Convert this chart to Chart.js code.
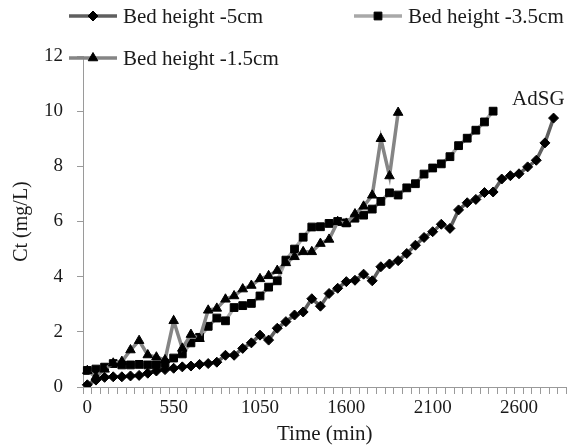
<!DOCTYPE html>
<html lang="en">
<head>
    <meta charset="utf-8">
    <title>Ct vs time - AdSG</title>
    <script src="https://cdn.jsdelivr.net/npm/chart.js"></script>
    <style>
        body {
            margin: 0;
            background-color: #ffffff;
        }
    </style>
</head>
<body>
    <canvas id="myChart" width="573" height="447"></canvas>

    <script>
        // time categories (min), only every 10th one is labelled on the axis
        const timeLabels = [
            0, 60, 115, 170, 225, 280, 330, 385, 440, 495,
            550, 600, 650, 700, 750, 800, 850, 900, 950, 1000,
            1050, 1105, 1160, 1215, 1270, 1325, 1380, 1435, 1490, 1545,
            1600, 1650, 1700, 1750, 1800, 1850, 1900, 1950, 2000, 2050,
            2100, 2150, 2200, 2250, 2300, 2350, 2400, 2450, 2500, 2550,
            2600, 2650, 2700, 2750, 2800, 2850
        ];
        const labelEvery = 10;

        const seriesNames = ['Bed height -5cm', 'Bed height -3.5cm', 'Bed height -1.5cm'];

        // Ct (mg/L)
        const bed5 = [
            0.08, 0.25, 0.35, 0.37, 0.37, 0.4, 0.42, 0.5, 0.58, 0.63,
            0.68, 0.73, 0.76, 0.82, 0.85, 0.9, 1.15, 1.15, 1.4, 1.6,
            1.88, 1.7, 2.13, 2.37, 2.61, 2.72, 3.2, 2.93, 3.39, 3.58,
            3.82, 3.87, 4.09, 3.85, 4.36, 4.46, 4.58, 4.84, 5.14, 5.42,
            5.63, 5.9, 5.75, 6.42, 6.68, 6.8, 7.05, 7.07, 7.54, 7.66,
            7.73, 7.98, 8.22, 8.85, 9.75
        ];
        const bed35 = [
            0.6, 0.65, 0.72, 0.85, 0.8, 0.8, 0.82, 0.8, 0.8, 0.86,
            1.05, 1.2, 1.6, 1.8, 2.2, 2.5, 2.4, 2.88, 2.95, 3.03,
            3.3, 3.62, 3.85, 4.6, 5.0, 5.43, 5.8, 5.81, 5.93, 6.0,
            5.95, 6.12, 6.23, 6.45, 6.73, 7.04, 6.96, 7.22, 7.37, 7.72,
            7.94, 8.09, 8.35, 8.75, 9.02, 9.31, 9.61, 10.0
        ];
        const bed15 = [
            0.59, 0.37, 0.64, 0.86, 0.92, 1.34, 1.68, 1.16, 1.08, 0.98,
            2.4, 1.4, 1.9, 1.75, 2.78, 2.85, 3.18, 3.3, 3.55, 3.68,
            3.92, 4.03, 4.22, 4.5, 4.72, 4.9, 4.9, 5.2, 5.35, 5.99,
            5.93, 6.27, 6.55, 6.95, 9.0, 7.65, 9.95
        ];

        const serif = '"Liberation Serif", "Times New Roman", serif';
        const textColor = '#1a1a1a';
        const axisColor = '#9a9a9a';

        // where each legend entry starts (line start x, centre y)
        const legendSpots = [
            { x: 69, y: 16 },
            { x: 354, y: 16 },
            { x: 69, y: 58 }
        ];

        const overlay = {
            id: 'overlay',
            afterDatasetsDraw(chart) {
                const c = chart.ctx;
                c.save();
                chart.data.datasets.forEach((ds, i) => {
                    const p = legendSpots[i];
                    c.strokeStyle = ds.borderColor;
                    c.lineWidth = ds.borderWidth;
                    c.beginPath();
                    c.moveTo(p.x, p.y);
                    c.lineTo(p.x + 48, p.y);
                    c.stroke();
                    c.fillStyle = '#000';
                    c.strokeStyle = '#000';
                    c.lineWidth = 1;
                    Chart.helpers.drawPoint(c, {
                        pointStyle: ds.pointStyle,
                        radius: ds.pointRadius,
                        borderWidth: 1,
                        rotation: 0
                    }, p.x + 24, p.y);
                    c.fillStyle = textColor;
                    c.font = '21px ' + serif;
                    c.textAlign = 'left';
                    c.textBaseline = 'middle';
                    c.fillText(ds.label, p.x + 54, p.y + 1);
                });

                // "AdSG" tag above the end of the 5 cm curve
                const pts = chart.getDatasetMeta(0).data;
                const last = pts[pts.length - 1];
                c.font = '21px ' + serif;
                c.textAlign = 'right';
                c.textBaseline = 'middle';
                c.fillStyle = textColor;
                c.fillText('AdSG', last.x + 11, last.y - 19);
                c.restore();
            }
        };

        const ctx = document.getElementById('myChart').getContext('2d');

        const myChart = new Chart(ctx, {
            type: 'line',
            data: {
                labels: timeLabels,
                datasets: [{
                    label: seriesNames[0],
                    data: bed5,
                    borderColor: '#5f5f5f',
                    borderWidth: 3.5,
                    pointStyle: 'rectRot',
                    pointRadius: 5,
                    pointBackgroundColor: '#000',
                    pointBorderColor: '#000',
                    pointBorderWidth: 1,
                    tension: 0,
                    order: 3
                }, {
                    label: seriesNames[1],
                    data: bed35,
                    borderColor: '#a8a8a8',
                    borderWidth: 3.5,
                    pointStyle: 'rect',
                    pointRadius: 5.5,
                    pointBackgroundColor: '#000',
                    pointBorderColor: '#000',
                    pointBorderWidth: 1,
                    tension: 0,
                    order: 2
                }, {
                    label: seriesNames[2],
                    data: bed15,
                    borderColor: '#858585',
                    borderWidth: 3.5,
                    pointStyle: 'triangle',
                    pointRadius: 5.5,
                    pointBackgroundColor: '#000',
                    pointBorderColor: '#000',
                    pointBorderWidth: 1,
                    tension: 0,
                    order: 1
                }]
            },
            options: {
                responsive: false,
                animation: false,
                devicePixelRatio: 1,
                layout: {
                    padding: { left: 0, right: 3, top: 56, bottom: 0 }
                },
                scales: {
                    x: {
                        type: 'category',
                        offset: true,
                        grid: {
                            offset: true,
                            drawOnChartArea: false,
                            tickLength: 7,
                            color: axisColor
                        },
                        border: { color: axisColor },
                        ticks: {
                            autoSkip: false,
                            maxRotation: 0,
                            padding: 3,
                            color: textColor,
                            font: { family: serif, size: 19 },
                            callback: function (value, index) {
                                return index % labelEvery === 0 ? this.getLabelForValue(value) : '';
                            }
                        },
                        title: {
                            display: true,
                            text: 'Time (min)',
                            color: textColor,
                            font: { family: serif, size: 21 },
                            padding: 0
                        },
                        afterFit: function (scale) {
                            scale.height = 60;
                        }
                    },
                    y: {
                        min: 0,
                        max: 12,
                        grid: {
                            drawOnChartArea: false,
                            tickLength: 6,
                            color: axisColor
                        },
                        border: { color: axisColor },
                        ticks: {
                            stepSize: 2,
                            padding: 14,
                            color: textColor,
                            font: { family: serif, size: 19 }
                        },
                        title: {
                            display: true,
                            text: 'Ct (mg/L)',
                            color: textColor,
                            font: { family: serif, size: 20 },
                            padding: { top: 10, bottom: 0 }
                        },
                        afterFit: function (scale) {
                            scale.width = 83;
                        }
                    }
                },
                plugins: {
                    legend: { display: false },
                    tooltip: { enabled: false }
                }
            },
            plugins: [overlay]
        });
    </script>
</body>
</html>
